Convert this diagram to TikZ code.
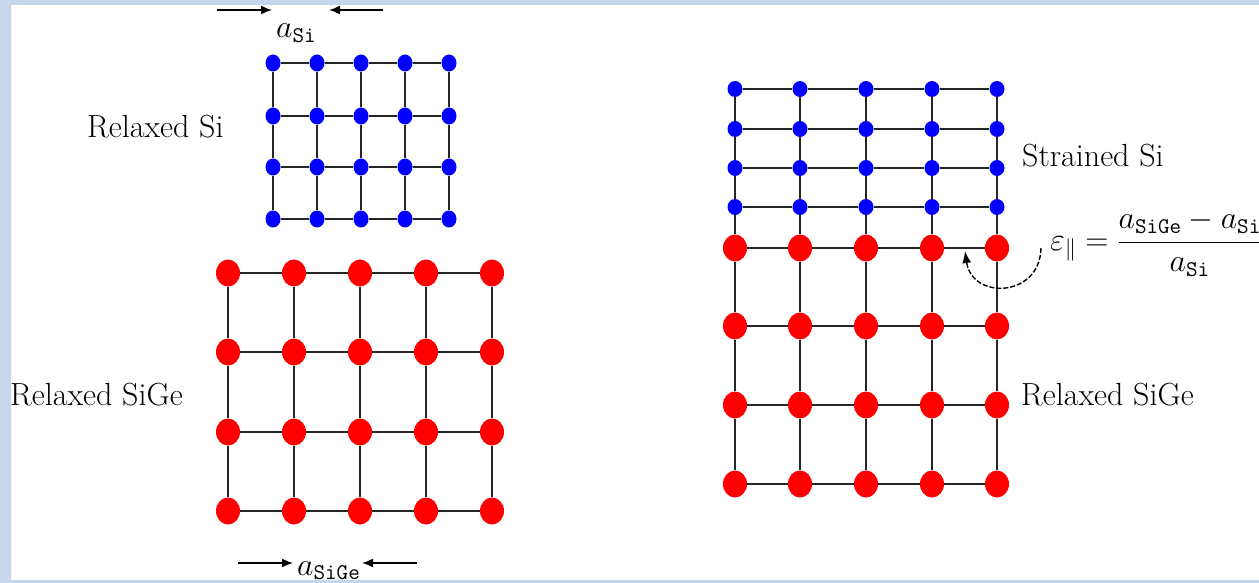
\RequirePackage{fix-cm}
\documentclass[tikz,border=0pt]{standalone}
\usepackage{amsmath}
\usepackage{fontspec}
\usetikzlibrary{shapes.geometric,arrows.meta}
\definecolor{frameblue}{RGB}{198,214,236}
\definecolor{dotblue}{RGB}{0,0,255}
\definecolor{dotred}{RGB}{255,0,0}
\begin{document}
\begin{tikzpicture}[x=1pt,y=-1pt,
  bdot/.style={ellipse,fill=dotblue,inner sep=0pt,minimum width=15pt,minimum height=17pt},
  bdotr/.style={ellipse,fill=dotblue,inner sep=0pt,minimum width=15pt,minimum height=16pt},
  rdot/.style={ellipse,fill=dotred,inner sep=0pt,minimum width=24pt,minimum height=27pt},
  gridline/.style={line width=1.9pt,draw=black!85},
  dimarrow/.style={line width=1.6pt,-{Latex[length=11pt,width=9pt]}},
  lbl/.style={font=\fontsize{32}{38}\selectfont,inner sep=0pt,anchor=base west}]
\useasboundingbox (0,0) rectangle (1259,583);
\fill[white] (0,0) rectangle (1259,583);

% ---------- left: relaxed Si ----------
\foreach \x [count=\i] in {273,317,361,405,449}
  \foreach \y [count=\j] in {63,116,167,219}
    \node[bdot] (lb-\i-\j) at (\x,\y) {};
% ---------- left: relaxed SiGe ----------
\foreach \x [count=\i] in {228,294,360,426,492}
  \foreach \y [count=\j] in {273,352,432,511}
    \node[rdot] (lr-\i-\j) at (\x,\y) {};
% ---------- right: strained Si ----------
\foreach \x [count=\i] in {735,800,866,932,997}
  \foreach \y [count=\j] in {89,129,168,207}
    \node[bdotr] (rb-\i-\j) at (\x,\y) {};
% ---------- right: relaxed SiGe ----------
\foreach \x [count=\i] in {735,800,866,932,997}
  \foreach \y [count=\j] in {248,326,405,484}
    \node[rdot] (rr-\i-\j) at (\x,\y) {};

% grid lines
\foreach \g in {lb,lr,rb,rr}{
  \foreach \i in {1,...,5}{
    \foreach \j/\k in {1/2,2/3,3/4}{
      \draw[gridline] (\g-\i-\j) -- (\g-\i-\k);
    }
  }
  \foreach \i/\m in {1/2,2/3,3/4,4/5}{
    \foreach \j in {1,...,4}{
      \draw[gridline] (\g-\i-\j) -- (\g-\m-\j);
    }
  }
}
\foreach \i in {1,...,5}
  \draw[gridline] (rb-\i-4) -- (rr-\i-1);

% dimension arrows
\coordinate (t1) at (217,10);  \coordinate (t1e) at (272,10);
\coordinate (t2) at (383,10);  \coordinate (t2e) at (329,10);
\coordinate (b1) at (238,563); \coordinate (b1e) at (293,563);
\coordinate (b2) at (417,563); \coordinate (b2e) at (362,563);
\draw[dimarrow] (t1) -- (t1e);
\draw[dimarrow] (t2) -- (t2e);
\draw[dimarrow] (b1) -- (b1e);
\draw[dimarrow] (b2) -- (b2e);
\node[lbl] (asi) at (276,38) {$a_{\mathtt{Si}}$};
\node[lbl] (asige) at (297,575) {$a_{\mathtt{SiGe}}$};

% labels
\node[lbl] (relsi) at (87,138) {Relaxed Si};
\node[lbl] (relsige) at (10,405) {Relaxed SiGe};
\node[lbl] (strsi) at (1022,167) {Strained Si};
\node[lbl] (relsige2) at (1021,405) {Relaxed SiGe};
\node[lbl] (eps) at (1050,250)
  {$\displaystyle \varepsilon_{\parallel}=\frac{a_{\mathtt{SiGe}}-a_{\mathtt{Si}}}{a_{\mathtt{Si}}}$};

% strain arrow
\coordinate (arcs) at (1041,248);
\coordinate (arce) at (965,251);
\draw[line width=1.4pt,dash pattern=on 5pt off 2pt,-{Latex[length=12pt,width=9pt]}]
  (arcs) .. controls (1040,298) and (972,300) .. (arce);

% frame
\fill[frameblue,even odd rule] (0,0) rectangle (1259,583) (11,5) rectangle (1259,580);
\end{tikzpicture}
\end{document}
